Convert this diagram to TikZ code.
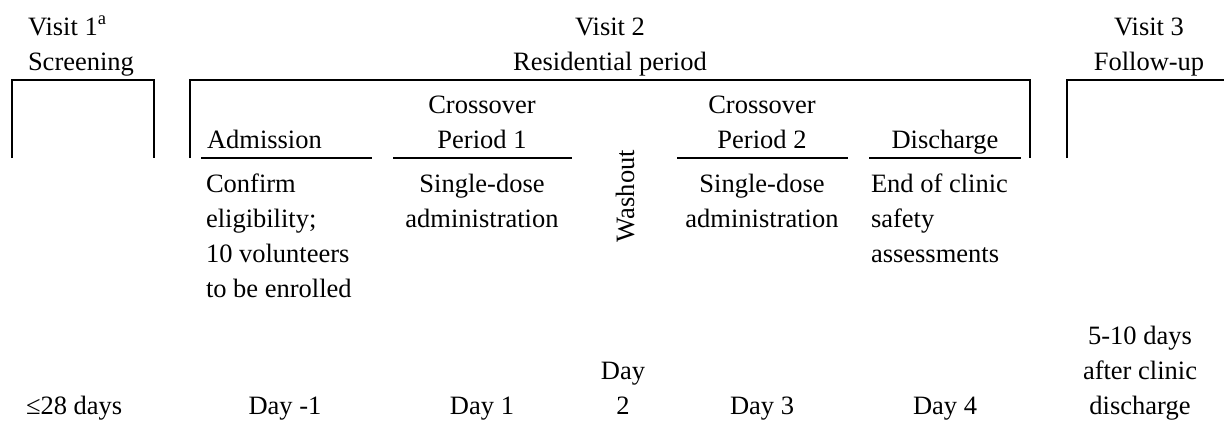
\documentclass[tikz,border=0pt]{standalone}
\usepackage{fontspec}
\setmainfont{Liberation Serif}
\usepackage{tikz}

\begin{document}
\begin{tikzpicture}[x=0.5pt, y=-0.5pt, line width=1pt,
  lbl/.style={font=\fontsize{13.25}{17.5}\selectfont, inner sep=0pt, anchor=base, align=center},
  lbll/.style={lbl, anchor=base west, align=left}]
  \useasboundingbox (0,0) rectangle (1224,420);
  % visit headings (base = last line)
  \node[lbll] (visit1) at (27,70) {Visit 1\textsuperscript{a}\\Screening};
  \node[lbl] (visit2) at (610,70) {Visit 2\\Residential period};
  \node[lbl] (visit3) at (1149,70) {Visit 3\\Follow-up};
  % open boxes
  \draw (12,158) -- (12,80) -- (154,80) -- (154,158);
  \draw (190,158) -- (190,80) -- (1030,80) -- (1030,158);
  \draw (1067,158) -- (1067,80) -- (1224,80);
  % stage headings and rules
  \node[lbll] (admit) at (206,148) {Admission};
  \node[lbl] (cross1) at (482,148) {Crossover\\Period 1};
  \node[lbl] (cross2) at (762,148) {Crossover\\Period 2};
  \node[lbl] (discharge) at (945,148) {Discharge};
  \draw (201,158) -- (372,158);
  \draw (393,158) -- (572,158);
  \draw (677,158) -- (848,158);
  \draw (869,158) -- (1021,158);
  % what happens
  \node[lbll] (admitnote) at (205,297) {Confirm\\eligibility;\\10 volunteers\\to be enrolled};
  \node[lbl] (dose1) at (482,227) {Single-dose\\administration};
  \node[lbl, rotate=90, anchor=center] (washout) at (625,196) {Washout};
  \node[lbl] (dose2) at (762,227) {Single-dose\\administration};
  \node[lbll] (dischargenote) at (870,262) {End of clinic\\safety\\assessments};
  % timing
  \node[lbll] (dayscreen) at (25,414) {≤28 days};
  \node[lbl] (dayminus1) at (285,414) {Day -1};
  \node[lbl] (dayone) at (482,414) {Day 1};
  \node[lbl] (daytwo) at (623,414) {Day\\2};
  \node[lbl] (daythree) at (762,414) {Day 3};
  \node[lbl] (dayfour) at (945,414) {Day 4};
  \node[lbl] (dayfollow) at (1140,414) {5-10 days\\after clinic\\discharge};
\end{tikzpicture}
\end{document}
